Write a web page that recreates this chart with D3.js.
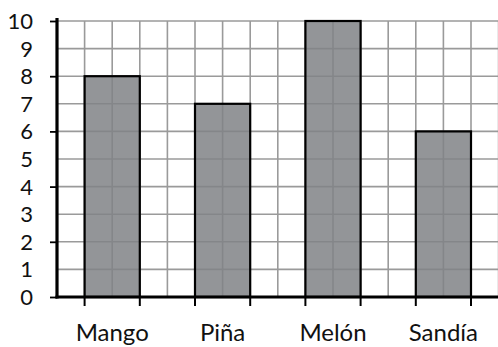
<!DOCTYPE html>
<html>
<head>
<meta charset="utf-8">
<script src="https://cdn.jsdelivr.net/npm/d3@7"></script>
<style>
	body { margin: 0; background: #fff; }
	.lbl { font-family: Lato, "Noto Sans", sans-serif; fill: #111; }
</style>
</head>
<body>
<div id="chart"></div>
<script>
// data
var fruits = ["Mango", "Piña", "Melón", "Sandía"];
var counts = [8, 7, 10, 6];
var yTicks = [0, 1, 2, 3, 4, 5, 6, 7, 8, 9, 10];
var yMarks = [0, 2, 4, 6, 8, 10];

var W = 498, H = 347;
var left = 57, zero = 297, cell = 27.6;

var svg = d3.select("#chart")
	.append("svg")
	.attr("width", W)
	.attr("height", H);

var y = d3.scaleLinear()
	.domain([0, 10])
	.range([zero, zero - 10 * cell]);

var x = d3.scaleBand()
	.domain(fruits)
	.range([left, left + 16 * cell])
	.paddingInner(0.5)
	.paddingOuter(0.25);

/**  grid  **/
var grid = svg.append("g");
grid.selectAll(".hg")
	.data(yTicks.slice(1))
	.enter()
	.append("line")
	  .attr("x1", left).attr("x2", W)
	  .attr("y1", function(d) { return y(d); })
	  .attr("y2", function(d) { return y(d); })
	  .attr("stroke", "#9a9a9a")
	  .attr("stroke-width", 1.6);

var cols = d3.range(1, 17);
grid.selectAll(".vg")
	.data(cols)
	.enter()
	.append("line")
	  .attr("x1", function(d) { return left + d * x.step() / 4; })
	  .attr("x2", function(d) { return left + d * x.step() / 4; })
	  .attr("y1", y(10)).attr("y2", zero)
	  .attr("stroke", "#9a9a9a")
	  .attr("stroke-width", 1.6);

/**  bars (semi transparent so the grid shows through)  **/
svg.selectAll(".bar")
	.data(counts)
	.enter()
	.append("rect")
	  .attr("class", "bar")
	  .attr("x", function(d, i) { return x(fruits[i]); })
	  .attr("y", function(d) { return y(d); })
	  .attr("width", x.bandwidth())
	  .attr("height", function(d) { return zero - y(d); })
	  .attr("fill", "rgb(128,130,134)")
	  .attr("fill-opacity", 0.85)
	  .attr("stroke", "#000")
	  .attr("stroke-width", 2.2);

/**  axes  **/
var yAxis = d3.axisLeft(y).tickValues(yMarks).tickSize(7).tickFormat("");
var ya = svg.append("g")
	.attr("transform", "translate(" + left + ",0)")
	.call(yAxis);
ya.select(".domain").remove();
ya.selectAll(".tick line").attr("stroke", "#000").attr("stroke-width", 1.8);

svg.append("line")
	.attr("x1", left).attr("x2", left)
	.attr("y1", 18).attr("y2", zero + 1.5)
	.attr("stroke", "#000")
	.attr("stroke-width", 3.2);

var edges = [];
fruits.forEach(function(f) { edges.push(x(f)); edges.push(x(f) + x.bandwidth()); });
svg.selectAll(".xt")
	.data(edges)
	.enter()
	.append("line")
	  .attr("x1", function(d) { return d; })
	  .attr("x2", function(d) { return d; })
	  .attr("y1", zero).attr("y2", zero + 9)
	  .attr("stroke", "#000")
	  .attr("stroke-width", 2);

svg.append("line")
	.attr("x1", left - 1.5).attr("x2", W)
	.attr("y1", zero).attr("y2", zero)
	.attr("stroke", "#000")
	.attr("stroke-width", 3.2);

/**  labels  **/
svg.selectAll(".ylab")
	.data(yTicks)
	.enter()
	.append("text")
	  .attr("class", "lbl")
	  .attr("x", 33)
	  .attr("y", function(d) { return y(d); })
	  .attr("dy", "0.36em")
	  .attr("text-anchor", "end")
	  .style("font-size", "22px")
	  .text(function(d) { return d; });

svg.selectAll(".xlab")
	.data(fruits)
	.enter()
	.append("text")
	  .attr("class", "lbl")
	  .attr("x", function(d) { return x(d) + x.bandwidth() / 2; })
	  .attr("y", 341)
	  .attr("text-anchor", "middle")
	  .style("font-size", "24px")
	  .text(function(d) { return d; });
</script>
</body>
</html>
